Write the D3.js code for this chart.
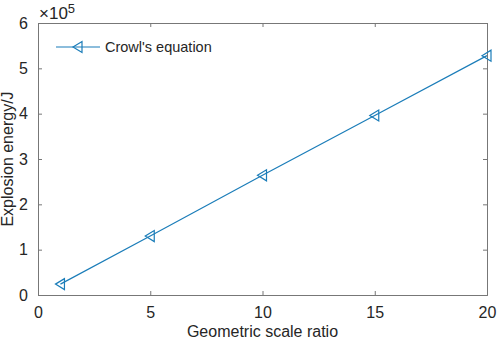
<!DOCTYPE html>
<html>
<head>
<meta charset="utf-8">
<script src="https://cdn.jsdelivr.net/npm/d3@7"></script>
<style>
  body { margin: 0; background: #fff; }
  text { font-family: "Liberation Sans", Arial, sans-serif; fill: #262626; }
</style>
</head>
<body>
<div id="chart"></div>
<script>
const scaleRatio = [1, 5, 10, 15, 20];
const energy = [0.24, 1.30, 2.64, 3.96, 5.28]; // x 10^5 J
const xTicks = [0, 5, 10, 15, 20];
const yTicks = [0, 1, 2, 3, 4, 5, 6];
const seriesName = "Crowl's equation";

const width = 498;
const height = 344;
const margin = { top: 23, right: 11, bottom: 49, left: 38 };
const lineColor = "#1b7db9";
const axisColor = "#777";

const svg = d3.select("#chart")
  .append("svg")
  .attr("width", width)
  .attr("height", height);

const x = d3.scaleLinear().domain([0, 20]).range([margin.left, width - margin.right]);
const y = d3.scaleLinear().domain([0, 6]).range([height - margin.bottom, margin.top]);

// box with ticks on all four sides, ticks pointing inward
svg.append("g")
  .attr("transform", `translate(0,${y(0)})`)
  .call(d3.axisBottom(x).tickValues(xTicks).tickSize(-4).tickPadding(9).tickFormat(d3.format("d")))
  .call((g) => g.selectAll("text").attr("font-size", 16).attr("dy", "0.85em"));

svg.append("g")
  .attr("transform", `translate(0,${y(6)})`)
  .call(d3.axisTop(x).tickValues(xTicks).tickSize(-4).tickFormat(""));

svg.append("g")
  .attr("transform", `translate(${x(0)},0)`)
  .call(d3.axisLeft(y).tickValues(yTicks).tickSize(-4).tickPadding(10).tickFormat(d3.format("d")))
  .call((g) => g.selectAll("text").attr("font-size", 16));

svg.append("g")
  .attr("transform", `translate(${x(20)},0)`)
  .call(d3.axisRight(y).tickValues(yTicks).tickSize(-4).tickFormat(""));

svg.selectAll(".domain, .tick line").attr("stroke", axisColor);

// exponent marker
const expo = svg.append("text")
  .attr("x", x(0) + 1)
  .attr("y", y(6) - 4)
  .attr("font-size", 17);
expo.append("tspan").text("\u00d710");
expo.append("tspan").attr("dy", -6).attr("font-size", 13).text("5");

// axis titles
svg.append("text")
  .attr("x", (x(0) + x(20)) / 2)
  .attr("y", height - 7)
  .attr("text-anchor", "middle")
  .attr("font-size", 16)
  .text("Geometric scale ratio");

svg.append("text")
  .attr("transform", `translate(13,${(y(0) + y(6)) / 2}) rotate(-90)`)
  .attr("text-anchor", "middle")
  .attr("font-size", 16)
  .text("Explosion energy/J");

const points = scaleRatio.map((d, i) => ({ x: d, y: energy[i] }));

svg.append("path")
  .datum(points)
  .attr("fill", "none")
  .attr("stroke", lineColor)
  .attr("stroke-width", 1.2)
  .attr("d", d3.line().x((d) => x(d.x)).y((d) => y(d.y)));

const tri = "M-5,0L4,-5.5L4,5.5Z";

svg.append("g")
  .selectAll("path")
  .data(points)
  .join("path")
  .attr("transform", (d) => `translate(${x(d.x)},${y(d.y)})`)
  .attr("d", tri)
  .attr("fill", "none")
  .attr("stroke", lineColor)
  .attr("stroke-width", 1.2);

// legend
const legend = svg.append("g").attr("transform", "translate(56,47)");
legend.append("line")
  .attr("x1", 0).attr("x2", 44)
  .attr("stroke", lineColor)
  .attr("stroke-width", 1.2);
legend.append("path")
  .attr("transform", "translate(22,0)")
  .attr("d", tri)
  .attr("fill", "none")
  .attr("stroke", lineColor)
  .attr("stroke-width", 1.2);
legend.append("text")
  .attr("x", 49)
  .attr("dy", "0.35em")
  .attr("font-size", 14.5)
  .text(seriesName);
</script>
</body>
</html>
